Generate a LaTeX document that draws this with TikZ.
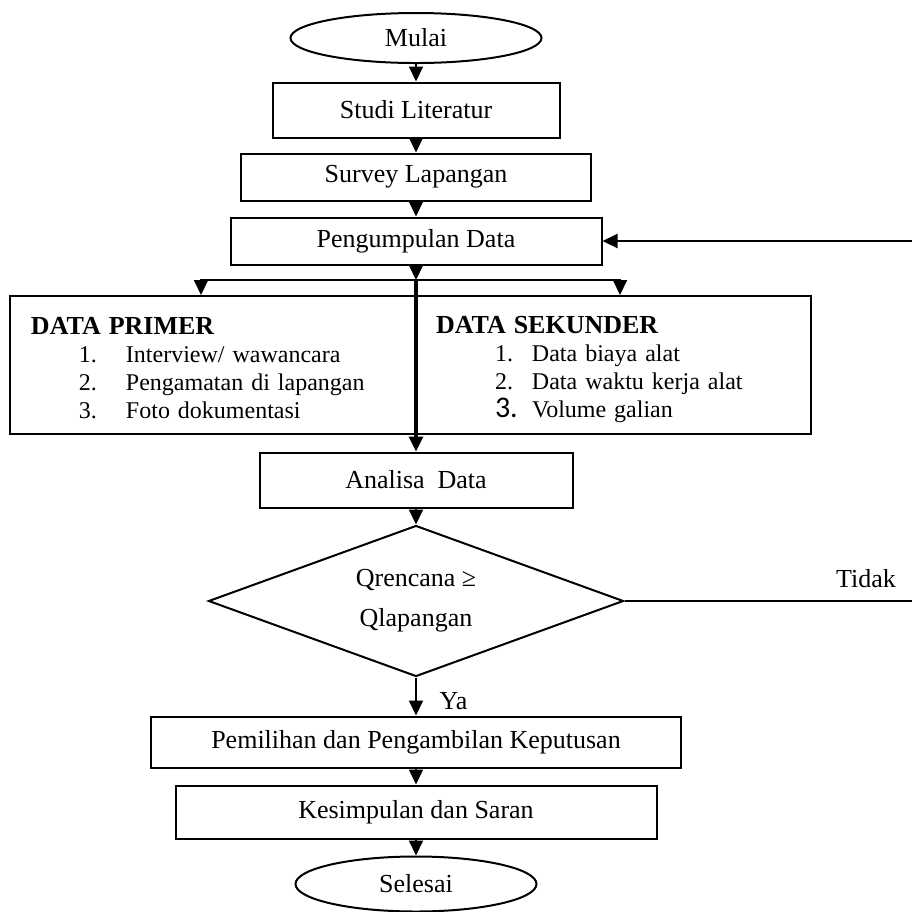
\documentclass[tikz,border=0pt]{standalone}
\usepackage{fontspec}
\setmainfont{Liberation Serif}
\newfontfamily\angka{Carlito}
\usetikzlibrary{shapes, arrows.meta, positioning}
\tikzstyle{block} = [draw, fill=white, rectangle, font=\fontsize{13}{15}\selectfont]
\tikzstyle{terminal} = [draw, ellipse, font=\fontsize{13}{15}\selectfont]
\tikzstyle{decision} = [draw, diamond, aspect=2.75, inner sep=2pt, align=center, font=\fontsize{13}{20}\selectfont]
\tikzstyle{datablock} = [draw, rectangle, align=left, inner xsep=10.5pt, font=\fontsize{12}{14}\selectfont]
\newcommand{\judul}[2]{\rule{0pt}{#1}{\fontsize{13}{14}\selectfont\bfseries #2}}
\newcommand{\butir}[4]{\hspace*{#1}\makebox[#2][l]{#3}#4}

\begin{document}
\begin{tikzpicture}[auto, >={Triangle[width=7pt,length=7.5pt]}, x=0.5pt, y=0.5pt, line width=1pt]
  \useasboundingbox (0,0) rectangle (912,-912);
  \node[terminal, minimum width=125.5pt, minimum height=25pt] (mulai) at (416,-38) {Mulai};
  \node[block, below of=mulai, node distance=36pt, minimum width=143.5pt, minimum height=27.5pt] (studi) {Studi Literatur};
  \node[block, below of=studi, node distance=33.5pt, minimum width=175pt, minimum height=23.5pt] (survey) {Survey Lapangan};
  \node[block, below of=survey, node distance=32pt, minimum width=185.5pt, minimum height=23.5pt] (kumpul) {Pengumpulan Data};
  \node[coordinate, below of=kumpul, node distance=19.5pt] (cabang) {};
  \node[datablock, minimum width=202.5pt, minimum height=69pt, text width=181.5pt] (primer) at (212.5,-365) {%
    \judul{11.5pt}{DATA PRIMER}\\
    \butir{24pt}{23.5pt}{1.}{Interview/ wawancara}\\
    \butir{24pt}{23.5pt}{2.}{Pengamatan di lapangan}\\
    \butir{24pt}{23.5pt}{3.}{Foto dokumentasi}};
  \node[datablock, minimum width=198pt, minimum height=69pt, text width=177pt] (sekunder) at (613,-365) {%
    \judul{13pt}{DATA SEKUNDER}\\
    \butir{29.5pt}{18.5pt}{1.}{Data biaya alat}\\
    \butir{29.5pt}{18.5pt}{2.}{Data waktu kerja alat}\\
    \butir{29.5pt}{18.5pt}{{\angka\fontsize{15}{14}\selectfont 3.}}{Volume galian}};
  \node[block, below of=cabang, node distance=100pt, minimum width=156.5pt, minimum height=27.5pt] (analisa) {Analisa~ Data};
  \node[decision, below of=analisa, node distance=60.5pt, minimum width=207.5pt, minimum height=75.5pt] (cek) {Qrencana ≥\\Qlapangan};
  \node[block, below of=cek, node distance=70.5pt, minimum width=265pt, minimum height=25.5pt] (pilih) {Pemilihan dan Pengambilan Keputusan};
  \node[block, below of=pilih, node distance=35pt, minimum width=240.5pt, minimum height=26.5pt] (simpul) {Kesimpulan dan Saran};
  \node[terminal, below of=simpul, node distance=36pt, minimum width=120.5pt, minimum height=27.5pt] (selesai) {Selesai};
  \coordinate (tidak) at (912,-601);
  \coordinate (balik) at (912,-241);
  \draw[->] (mulai) -- (studi);
  \draw[->] (studi) -- (survey);
  \draw[->] (survey) -- (kumpul);
  \draw[->] (kumpul) -- (cabang);
  \draw[->] (cabang) -| ([xshift=-5.75pt]primer.north);
  \draw[->] (cabang) -| ([xshift=3.5pt]sekunder.north);
  \draw[->, line width=1.6pt] (cabang) -- (analisa);
  \draw[->] (analisa) -- (cek);
  \draw (cek) -- node[pos=0.84, above=3pt, font=\fontsize{13}{15}\selectfont] {Tidak} (tidak);
  \draw[->] (balik) -- (kumpul);
  \draw[->] (cek) -- node[right=8pt, yshift=-2.5pt, font=\fontsize{13}{15}\selectfont] {Ya} (pilih);
  \draw[->] (pilih) -- (simpul);
  \draw[->] (simpul) -- (selesai);
\end{tikzpicture}
\end{document}
